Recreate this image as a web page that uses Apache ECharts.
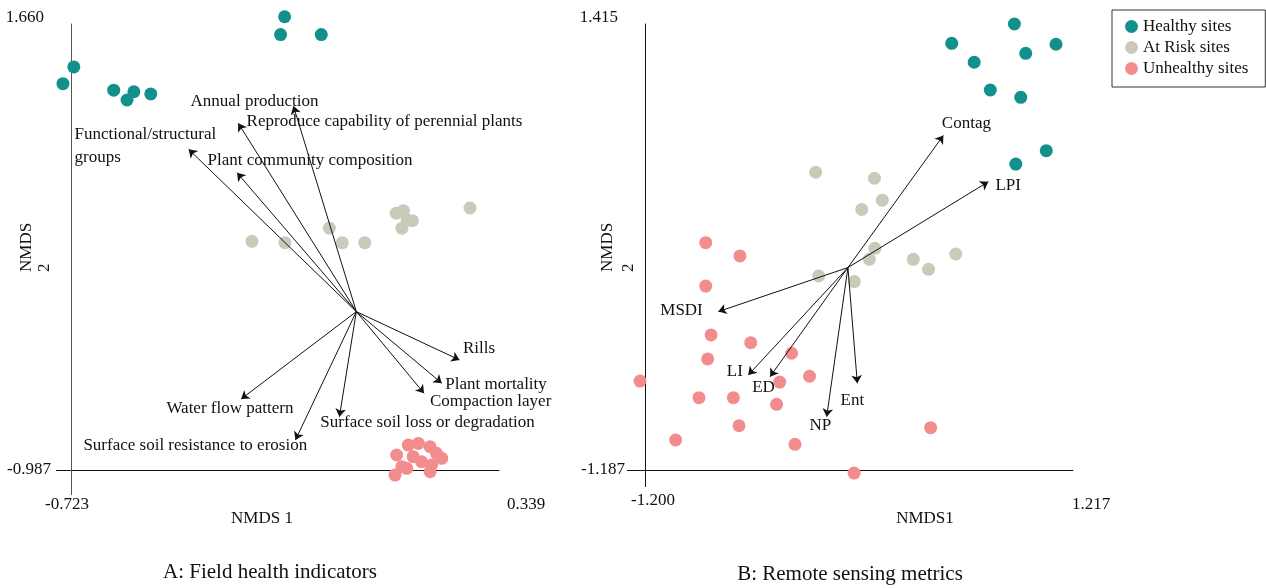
<!DOCTYPE html>
<html>
<head>
<meta charset="utf-8">
<title>NMDS ordination</title>
<script src="https://cdn.jsdelivr.net/npm/echarts@6/dist/echarts.min.js"></script>
<style>
html, body { margin: 0; padding: 0; background: #fff; }
#chart { width: 1266px; height: 588px; }
</style>
</head>
<body>
<div id="chart"></div>
<script>
// A: field health indicators, site scores [NMDS1, NMDS2]
const fieldHealthy = [[-0.193, 1.703], [-0.203, 1.597], [-0.102, 1.597], [-0.716, 1.405], [-0.743, 1.306],
	[-0.617, 1.267], [-0.567, 1.258], [-0.584, 1.209], [-0.525, 1.245]];
const fieldAtRisk = [[-0.274, 0.370], [-0.192, 0.362], [-0.082, 0.449], [-0.050, 0.362], [0.006, 0.362],
	[0.084, 0.537], [0.102, 0.552], [0.124, 0.493], [0.098, 0.448], [0.111, 0.497], [0.267, 0.568]];
const fieldUnhealthy = [[0.085, -0.898], [0.114, -0.839], [0.139, -0.829], [0.168, -0.849], [0.197, -0.918],
	[0.172, -0.957], [0.147, -0.938], [0.126, -0.908], [0.098, -0.967], [0.081, -1.017], [0.110, -0.977],
	[0.168, -0.997], [0.184, -0.888]];
// fitted vectors (arrows) for A
const fieldOrigin = [-0.015, -0.047];
const fieldVectors = ['Annual production', 'Reproduce capability of perennial plants', 'Functional/structural\ngroups',
	'Plant community composition', 'Rills', 'Plant mortality', 'Compaction layer',
	'Surface soil loss or degradation', 'Surface soil resistance to erosion', 'Water flow pattern'];
const fieldTips = [[-0.171, 1.173], [-0.308, 1.071], [-0.431, 0.916], [-0.311, 0.777], [0.241, -0.334],
	[0.197, -0.472], [0.153, -0.532], [-0.057, -0.671], [-0.166, -0.809], [-0.301, -0.566]];
const fieldLabelAt = [[-0.425, 1.199], [-0.286, 1.080], [-0.713, 0.933], [-0.383, 0.847], [0.251, -0.271],
	[0.207, -0.483], [0.169, -0.582], [-0.103, -0.710], [-0.691, -0.845], [-0.485, -0.627]];
const fieldXTicks = ['-0.723', '0.339'];
const fieldYTicks = ['-0.987', '1.660'];

// B: remote sensing metrics
const remoteHealthy = [[0.886, 1.415], [0.532, 1.302], [1.121, 1.297], [0.950, 1.244], [0.659, 1.192],
	[0.750, 1.030], [0.922, 0.987], [1.066, 0.676], [0.894, 0.598]];
const remoteAtRisk = [[-0.236, 0.550], [0.096, 0.515], [0.140, 0.387], [0.024, 0.333], [0.098, 0.106],
	[0.067, 0.042], [0.315, 0.042], [0.401, -0.016], [0.555, 0.073], [-0.219, -0.055], [-0.018, -0.088]];
const remoteUnhealthy = [[-0.857, 0.139], [-0.664, 0.062], [-0.857, -0.114], [-0.827, -0.399], [-0.603, -0.444],
	[-0.846, -0.539], [-0.372, -0.506], [-1.228, -0.668], [-0.271, -0.640], [-0.439, -0.674], [-0.895, -0.765],
	[-0.701, -0.765], [-0.457, -0.804], [-0.669, -0.929], [-1.027, -1.012], [-0.353, -1.037], [-0.019, -1.205],
	[0.413, -0.940]];
const remoteOrigin = [-0.054, -0.006];
const remoteVectors = ['Contag', 'LPI', 'MSDI', 'LI', 'ED', 'NP', 'Ent'];
const remoteTips = [[0.485, 0.765], [0.739, 0.495], [-0.786, -0.263], [-0.617, -0.633], [-0.494, -0.643],
	[-0.174, -0.876], [-0.001, -0.681]];
const remoteLabelAt = [[0.479, 0.832], [0.782, 0.470], [-1.111, -0.258], [-0.735, -0.614], [-0.592, -0.710],
	[-0.268, -0.930], [-0.093, -0.783]];
const remoteXTicks = ['-1.200', '1.217'];
const remoteYTicks = ['-1.187', '1.415'];

const groupNames = ['Healthy sites', 'At Risk sites', 'Unhealthy sites'];

const font = "'Liberation Serif', 'Times New Roman', serif";
const ink = '#111';
const groupColors = ['#12918c', '#c9cab9', '#f38d8d'];

function txt(extra) {
	return Object.assign({ fontFamily: font, fontSize: 17, color: ink }, extra || {});
}

// axis with labels only at the two ends, and a tick at min that mimics the crossing axis stub
function makeXAxis(gi, ticks, stub, stubColor, lineColor, loPad, hiPad, margin, namePad) {
	const lo = parseFloat(ticks[0]);
	const hi = parseFloat(ticks[1]);
	return {
		gridIndex: gi,
		type: 'value',
		min: lo,
		max: hi,
		name: gi === 0 ? 'NMDS 1' : 'NMDS1',
		nameLocation: 'middle',
		nameGap: 40,
		nameMoveOverlap: false,
		nameTextStyle: txt({ padding: namePad }),
		axisLine: { onZero: false, lineStyle: { color: lineColor, width: 1 } },
		axisTick: { show: true, customValues: [lo], length: stub, lineStyle: { color: stubColor, width: 1 } },
		axisLabel: {
			customValues: [lo, hi],
			margin: margin,
			formatter: function (v) {
				return Math.abs(v - hi) < 1e-9 ? '{hi|' + ticks[1] + '}' : '{lo|' + ticks[0] + '}';
			},
			rich: { lo: txt({ padding: loPad }), hi: txt({ padding: hiPad }) }
		},
		splitLine: { show: false }
	};
}

function makeYAxis(gi, ticks, stub, stubColor, lineColor, nameGap, nameLine) {
	const lo = parseFloat(ticks[0]);
	const hi = parseFloat(ticks[1]);
	return {
		gridIndex: gi,
		type: 'value',
		min: lo,
		max: hi,
		name: '{n|NMDS}\n{n|2}',
		nameLocation: 'middle',
		nameRotate: 90,
		nameGap: nameGap,
		nameMoveOverlap: false,
		nameTextStyle: { rich: { n: txt({ width: 50, align: 'left', lineHeight: nameLine }) } },
		axisLine: { onZero: false, lineStyle: { color: lineColor, width: 1 } },
		axisTick: { show: true, customValues: [lo], length: stub, lineStyle: { color: stubColor, width: 1 } },
		axisLabel: {
			customValues: [lo, hi],
			margin: 20,
			formatter: function (v) {
				return Math.abs(v - hi) < 1e-9 ? '{hi|' + ticks[1] + '}' : '{lo|' + ticks[0] + '}';
			},
			rich: { lo: txt(), hi: txt({ padding: [0, 7, 13, 0] }) }
		},
		splitLine: { show: false }
	};
}

function panelSeries(gi, groups, origin, tips, names, labelAt) {
	const out = [];
	groups.forEach(function (pts, k) {
		out.push({
			name: groupNames[k],
			type: 'scatter',
			xAxisIndex: gi,
			yAxisIndex: gi,
			symbolSize: 13,
			clip: false,
			itemStyle: { color: groupColors[k], opacity: 1 },
			data: pts,
			z: 2
		});
	});
	out.push({
		type: 'lines',
		coordinateSystem: 'cartesian2d',
		xAxisIndex: gi,
		yAxisIndex: gi,
		symbol: ['none', 'arrow'],
		symbolSize: 8,
		lineStyle: { color: ink, width: 1, opacity: 1, curveness: 0 },
		data: tips.map(function (t) { return { coords: [origin, t] }; }),
		silent: true,
		z: 3
	});
	// vector names, anchored at their left edge
	out.push({
		type: 'scatter',
		xAxisIndex: gi,
		yAxisIndex: gi,
		symbolSize: 1,
		clip: false,
		silent: true,
		itemStyle: { color: '#fff', opacity: 1 },
		label: txt({
			show: true,
			position: [0, 0],
			align: 'left',
			verticalAlign: 'middle',
			lineHeight: 23,
			textBorderWidth: 0,
			opacity: 1,
			formatter: '{b}'
		}),
		data: labelAt.map(function (p, i) { return { name: names[i], value: p }; }),
		z: 4
	});
	return out;
}

const chart = echarts.init(document.getElementById('chart'));
chart.setOption({
	animation: false,
	backgroundColor: '#fff',
	title: [
		{ text: 'A: Field health indicators', left: 270, top: 562, textAlign: 'center', padding: 0,
			textStyle: txt({ fontSize: 21, fontWeight: 'normal' }) },
		{ text: 'B: Remote sensing metrics', left: 850, top: 564, textAlign: 'center', padding: 0,
			textStyle: txt({ fontSize: 21, fontWeight: 'normal' }) }
	],
	legend: {
		data: groupNames.map(function (n) { return { name: n, icon: 'circle' }; }),
		orient: 'vertical',
		left: 1112,
		top: 10,
		padding: [8, 17, 10, 13],
		itemGap: 4,
		itemWidth: 13,
		itemHeight: 13,
		borderColor: '#333',
		borderWidth: 1,
		selectedMode: false,
		textStyle: txt({ lineHeight: 17 })
	},
	grid: [
		{ left: 71, top: 24, width: 428, height: 446, outerBoundsMode: 'none' },
		{ left: 645, top: 24, width: 428, height: 446, outerBoundsMode: 'none' }
	],
	xAxis: [
		makeXAxis(0, fieldXTicks, 25, '#555', ink, [0, 8, 0, 0], [0, 0, 0, 54], 26, [0, 46, 0, 0]),
		makeXAxis(1, remoteXTicks, 17, ink, ink, [0, 0, 0, 16], [4, 0, 0, 36], 22, [0, 0, 0, 132])
	],
	yAxis: [
		makeYAxis(0, fieldYTicks, 15, ink, '#555', 17, 18),
		makeYAxis(1, remoteYTicks, 18, ink, ink, 6, 21)
	],
	series: [].concat(
		panelSeries(0, [fieldHealthy, fieldAtRisk, fieldUnhealthy], fieldOrigin, fieldTips, fieldVectors, fieldLabelAt),
		panelSeries(1, [remoteHealthy, remoteAtRisk, remoteUnhealthy], remoteOrigin, remoteTips, remoteVectors, remoteLabelAt)
	)
});
</script>
</body>
</html>
